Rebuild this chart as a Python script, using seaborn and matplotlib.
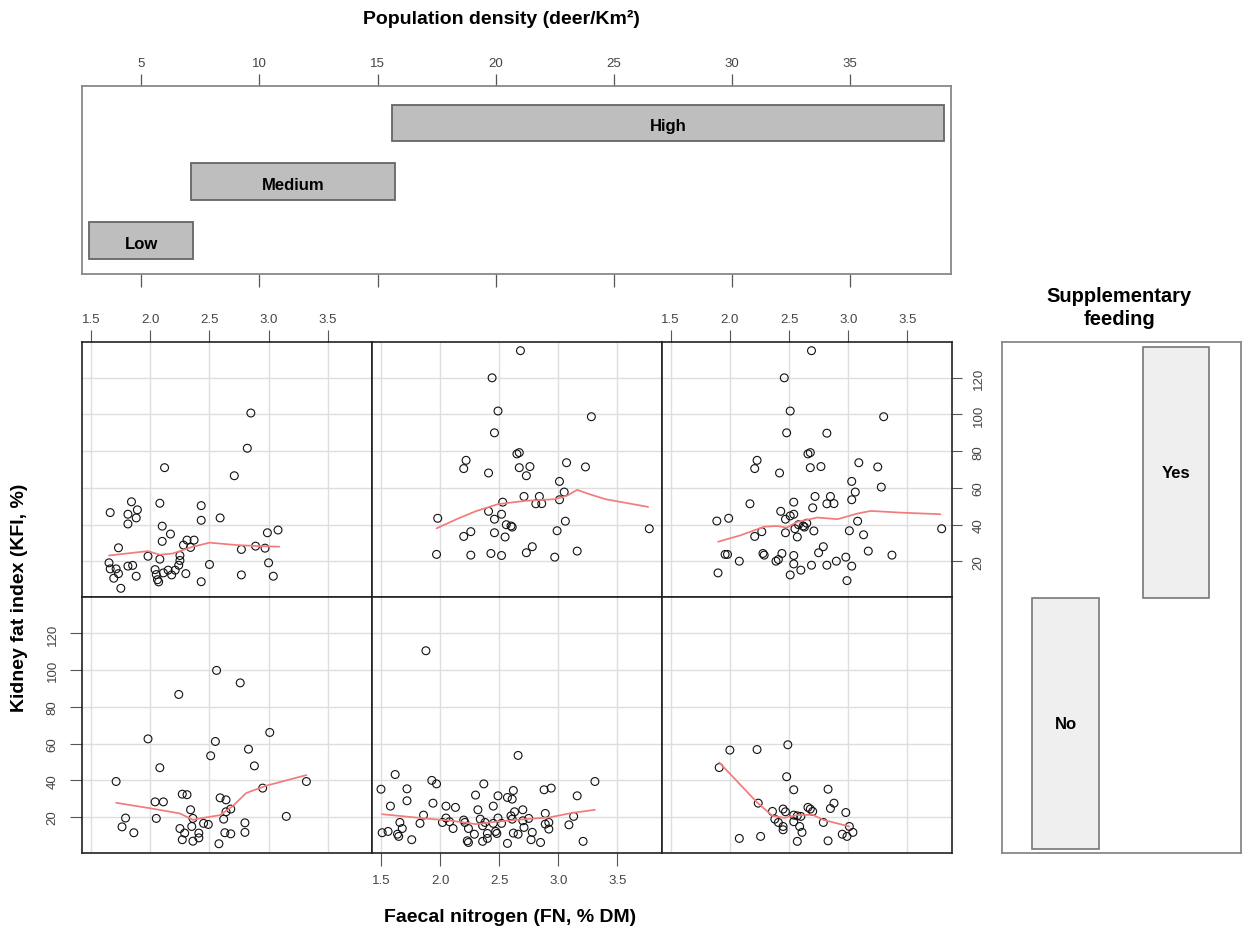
import numpy as np
import pandas as pd
import matplotlib
matplotlib.use("Agg")
import matplotlib.pyplot as plt
import seaborn as sns

# ---------------- data ----------------
density_levels = ["Low", "Medium", "High"]
density_lo = [2.80, 7.12, 15.63]
density_hi = [7.20, 15.75, 38.97]
density_ticks = [5, 10, 15, 20, 25, 30, 35]

feeding_levels = ["No", "Yes"]
feeding_lo = [0.5, 1.5]
feeding_hi = [1.5, 2.5]

fn_ticks = [1.5, 2.0, 2.5, 3.0, 3.5]
kfi_ticks = [20, 40, 60, 80, 100, 120]

# Supplementary feeding = Yes, density Low
fn_yes_low = [2.85, 2.82, 2.12, 2.71, 1.84, 1.66, 1.89, 1.81, 1.88, 1.81, 2.08, 2.43, 2.43, 2.59,
              2.10, 2.17, 2.10, 2.31, 2.37, 2.28, 2.34, 2.99, 3.08, 1.73, 2.77, 2.89, 2.97, 1.98,
              2.08, 2.25, 2.25, 2.24, 2.50, 3.00, 1.65, 1.66, 1.71, 1.73, 1.69, 1.75, 1.81, 1.85,
              1.88, 2.04, 2.05, 2.06, 2.07, 2.11, 2.15, 2.18, 2.21, 2.30, 2.43, 2.77, 3.04]
kfi_yes_low = [100.8, 81.6, 71.0, 66.6, 52.4, 46.5, 48.0, 45.6, 43.6, 40.3, 51.6, 50.3, 42.3, 43.6,
               39.1, 34.8, 30.8, 31.5, 31.5, 28.8, 27.5, 35.5, 37.0, 27.3, 26.4, 28.2, 27.1, 22.7,
               21.1, 23.1, 20.4, 17.8, 18.2, 19.1, 19.1, 15.8, 15.8, 13.2, 10.7, 5.2, 17.3, 17.7,
               11.8, 15.4, 12.7, 9.9, 8.7, 13.6, 15.1, 12.5, 15.1, 13.2, 8.8, 12.5, 11.8]
smooth_fn_yes_low = [1.65, 1.98, 2.08, 2.19, 2.35, 2.50, 2.73, 2.92, 3.09]
smooth_kfi_yes_low = [23.1, 25.5, 23.5, 24.2, 27.7, 30.1, 28.8, 28.2, 27.9]

# Yes, Medium
fn_yes_med = [2.68, 2.44, 2.49, 2.46, 3.28, 2.65, 2.67, 2.22, 2.20, 2.41, 2.67, 2.76, 2.73, 3.07,
              3.23, 3.01, 3.05, 3.01, 2.71, 2.84, 2.53, 2.81, 2.86, 1.98, 2.41, 2.46, 2.52, 2.56,
              2.60, 2.61, 3.06, 2.20, 2.26, 2.46, 2.55, 2.99, 3.77, 1.97, 2.26, 2.43, 2.52, 2.73,
              2.78, 2.97, 3.16]
kfi_yes_med = [134.8, 120.0, 101.9, 90.0, 98.8, 78.5, 79.2, 75.0, 70.5, 68.1, 71.0, 71.6, 66.6, 73.7,
               71.4, 63.5, 57.7, 53.5, 55.3, 55.3, 52.2, 51.3, 51.4, 43.4, 47.2, 42.9, 45.6, 39.9,
               39.2, 38.6, 41.8, 33.5, 36.1, 35.5, 33.2, 36.6, 37.7, 23.7, 23.3, 24.2, 23.1, 24.6,
               27.9, 22.2, 25.5]
smooth_fn_yes_med = [1.97, 2.15, 2.30, 2.49, 2.72, 2.97, 3.07, 3.16, 3.26, 3.40, 3.76]
smooth_kfi_yes_med = [37.9, 43.2, 47.2, 51.1, 52.9, 53.8, 55.6, 58.9, 56.6, 53.8, 49.6]

# Yes, High
fn_yes_high = [2.69, 2.46, 2.51, 2.48, 3.30, 2.82, 2.66, 2.68, 2.23, 2.21, 2.42, 2.68, 2.77, 3.09,
               3.25, 3.03, 3.28, 3.06, 3.03, 2.72, 2.85, 2.54, 2.17, 2.82, 2.88, 2.70, 2.43, 2.51,
               2.54, 2.47, 2.58, 2.62, 2.63, 2.65, 2.55, 3.08, 1.89, 1.99, 2.21, 2.27, 2.47, 2.57,
               2.71, 3.01, 3.13, 3.79, 1.96, 1.98, 2.08, 2.28, 2.29, 2.39, 2.41, 2.44, 2.54, 2.54,
               2.51, 2.60, 2.69, 2.75, 2.79, 2.82, 2.90, 2.98, 3.03, 3.17, 3.37, 1.90, 2.99]
kfi_yes_high = [134.8, 120.0, 101.9, 90.0, 98.8, 89.8, 78.5, 79.2, 75.0, 70.5, 68.1, 71.0, 71.6, 73.7,
                71.4, 63.5, 60.4, 57.7, 53.5, 55.3, 55.3, 52.2, 51.3, 51.3, 51.4, 49.1, 47.2, 44.7,
                45.6, 42.9, 39.9, 39.2, 38.6, 40.7, 37.7, 41.8, 41.9, 43.4, 33.5, 36.1, 35.5, 33.2,
                36.5, 36.6, 34.4, 37.7, 23.7, 23.7, 20.0, 24.2, 23.3, 20.0, 20.9, 24.2, 23.1, 18.5,
                12.5, 15.1, 17.8, 24.6, 27.9, 17.8, 20.0, 22.2, 17.3, 25.5, 23.3, 13.6, 9.4]
smooth_fn_yes_high = [1.90, 2.09, 2.29, 2.40, 2.48, 2.57, 2.74, 2.91, 3.08, 3.19, 3.44, 3.78]
smooth_kfi_yes_high = [30.6, 34.1, 38.8, 39.2, 38.3, 41.4, 43.8, 42.9, 46.0, 47.4, 46.5, 45.6]

# Supplementary feeding = No, density Low
fn_no_low = [2.56, 2.76, 2.24, 3.01, 1.98, 2.55, 2.51, 2.83, 2.88, 2.08, 1.71, 3.32, 2.95, 2.27,
             2.31, 2.04, 2.11, 2.59, 2.64, 2.34, 2.68, 2.64, 2.36, 3.15, 1.79, 2.05, 1.76, 1.86,
             2.25, 2.29, 2.27, 2.36, 2.35, 2.41, 2.41, 2.45, 2.49, 2.62, 2.63, 2.68, 2.80, 2.80,
             2.58]
kfi_no_low = [99.9, 93.1, 86.8, 66.1, 62.6, 61.2, 53.4, 57.0, 47.9, 46.9, 39.4, 39.4, 35.8, 32.5,
              32.2, 28.3, 28.3, 30.5, 29.4, 24.0, 24.4, 22.9, 19.3, 20.4, 19.5, 19.3, 14.7, 11.5,
              13.8, 11.3, 7.7, 6.9, 14.9, 11.3, 8.7, 16.6, 16.0, 18.9, 11.5, 10.9, 16.9, 11.7,
              5.5]
smooth_fn_no_low = [1.71, 1.99, 2.25, 2.36, 2.42, 2.59, 2.70, 2.81, 2.98, 3.32]
smooth_kfi_no_low = [27.8, 24.9, 22.0, 18.5, 19.3, 21.1, 26.2, 33.1, 37.1, 42.9]

# No, Medium
fn_no_med = [1.88, 2.66, 1.62, 1.50, 1.72, 1.72, 1.58, 1.93, 1.97, 1.94, 2.37, 2.30, 2.05, 2.13,
             1.86, 2.45, 2.49, 2.57, 2.62, 2.61, 2.32, 2.63, 2.70, 2.88, 2.94, 3.16, 3.31, 2.89,
             3.13, 1.66, 1.68, 1.51, 1.56, 1.64, 1.65, 1.76, 1.83, 2.02, 2.05, 2.08, 2.11, 2.20,
             2.21, 2.24, 2.23, 2.24, 2.29, 2.34, 2.36, 2.38, 2.36, 2.40, 2.40, 2.45, 2.47, 2.48,
             2.49, 2.52, 2.57, 2.60, 2.61, 2.62, 2.66, 2.70, 2.71, 2.75, 2.78, 2.77, 2.85, 2.89,
             2.92, 2.92, 3.09, 3.21]
kfi_no_med = [110.6, 53.6, 43.2, 35.2, 35.4, 28.9, 26.0, 40.0, 38.1, 27.6, 38.1, 32.0, 26.0, 25.3,
              21.1, 26.0, 31.6, 30.7, 34.5, 29.8, 24.0, 22.9, 24.0, 34.9, 35.8, 31.6, 39.4, 22.0,
              20.4, 17.1, 13.8, 11.5, 12.2, 10.7, 9.5, 7.7, 16.6, 17.1, 19.5, 17.5, 13.8, 18.4,
              17.1, 13.8, 7.1, 6.2, 10.7, 18.9, 15.3, 17.1, 6.8, 11.1, 8.4, 16.6, 12.2, 11.1,
              19.5, 16.6, 5.7, 20.7, 18.9, 11.3, 10.7, 18.0, 14.4, 19.3, 11.7, 7.7, 6.2, 16.2,
              17.1, 13.5, 15.8, 6.8]
smooth_fn_no_med = [1.51, 1.87, 2.10, 2.30, 2.49, 2.72, 2.92, 3.11, 3.31]
smooth_kfi_no_med = [21.6, 19.3, 18.0, 16.2, 17.6, 18.9, 19.8, 22.2, 24.0]

# No, High
fn_no_high = [2.00, 2.23, 2.49, 1.91, 2.48, 2.54, 2.83, 2.24, 2.88, 2.85, 2.36, 2.98, 2.45, 2.47,
              2.66, 2.68, 2.70, 2.54, 2.57, 2.60, 2.38, 2.41, 2.45, 2.45, 2.54, 2.59, 2.61, 2.79,
              3.01, 2.95, 2.99, 3.04, 2.08, 2.26, 2.57, 2.83]
kfi_no_high = [56.5, 56.8, 59.4, 47.0, 42.0, 34.9, 35.2, 27.6, 27.6, 24.7, 23.1, 22.5, 24.4, 22.9,
               25.3, 24.4, 23.1, 21.1, 20.7, 20.4, 18.9, 17.1, 14.9, 13.1, 17.5, 14.9, 11.7, 17.1,
               14.9, 10.7, 9.5, 11.7, 8.4, 9.5, 6.8, 7.1]
smooth_fn_no_high = [1.91, 2.23, 2.36, 2.46, 2.57, 2.70, 2.79, 3.01]
smooth_kfi_no_high = [49.8, 28.0, 20.7, 19.6, 21.1, 21.3, 18.5, 14.9]

# ---------------- figure ----------------
sns.set_style("white")
plt.rcParams["font.family"] = ["Liberation Sans", "DejaVu Sans"]
plt.rcParams["text.color"] = "black"

W, H = 1245, 937
fig = plt.figure(figsize=(W / 100, H / 100), dpi=100)


def add_ax(x0, y0, x1, y1):
    return fig.add_axes([x0 / W, 1 - y1 / H, (x1 - x0) / W, (y1 - y0) / H])


TICK_COL = "#555555"
LAB_COL = "#444444"
GRID_COL = "#DEDEDE"
RED = "#F27B7B"

panels = {
    (0, 0): (fn_yes_low, kfi_yes_low, smooth_fn_yes_low, smooth_kfi_yes_low),
    (0, 1): (fn_yes_med, kfi_yes_med, smooth_fn_yes_med, smooth_kfi_yes_med),
    (0, 2): (fn_yes_high, kfi_yes_high, smooth_fn_yes_high, smooth_kfi_yes_high),
    (1, 0): (fn_no_low, kfi_no_low, smooth_fn_no_low, smooth_kfi_no_low),
    (1, 1): (fn_no_med, kfi_no_med, smooth_fn_no_med, smooth_kfi_no_med),
    (1, 2): (fn_no_high, kfi_no_high, smooth_fn_no_high, smooth_kfi_no_high),
}

col_x = [82.3, 372.0, 661.7, 951.7]
row_y = [342.7, 598.3, 854.3]

for (r, c), (fx, ky, sx, sy) in panels.items():
    ax = add_ax(col_x[c], row_y[r], col_x[c + 1], row_y[r + 1])
    df = pd.DataFrame({"fn": fx, "kfi": ky})
    sm = pd.DataFrame({"fn": sx, "kfi": sy})
    ax.set_axisbelow(True)
    sns.scatterplot(data=df, x="fn", y="kfi", ax=ax, marker="o", s=32,
                    facecolor="none", edgecolor="#111111", linewidth=0.8, zorder=3)
    sns.lineplot(data=sm, x="fn", y="kfi", ax=ax, color=RED, lw=1.25,
                 sort=False, estimator=None, zorder=4)
    ax.set_xlim(1.424, 3.875)
    ax.set_ylim(0.3, 139.7)
    ax.set_xticks(fn_ticks)
    ax.set_yticks(kfi_ticks)
    ax.grid(True, color=GRID_COL, lw=1.0)
    ax.set_xlabel("")
    ax.set_ylabel("")
    for sp in ax.spines.values():
        sp.set_color("#222222")
        sp.set_linewidth(1.2)
    ax.tick_params(which="both", bottom=False, top=False, left=False, right=False,
                   labelbottom=False, labeltop=False, labelleft=False, labelright=False,
                   colors=TICK_COL, labelcolor=LAB_COL, labelsize=9.5, length=9, width=0.8)
    ax.set_xticklabels([f"{t:.1f}" for t in fn_ticks])
    ax.set_yticklabels([str(t) for t in kfi_ticks])
    if r == 0 and c in (0, 2):
        ax.tick_params(axis="x", top=True, labeltop=True, pad=3)
    if r == 1 and c == 1:
        ax.tick_params(axis="x", bottom=True, labelbottom=True, pad=6)
    if r == 0 and c == 2:
        ax.tick_params(axis="y", right=True, labelright=True, length=7, pad=8)
        for lab in ax.get_yticklabels():
            lab.set_rotation(90)
            lab.set_va("center")
    if r == 1 and c == 0:
        ax.tick_params(axis="y", left=True, labelleft=True, length=9, pad=8)
        for lab in ax.get_yticklabels():
            lab.set_rotation(90)
            lab.set_va("center")

# ---- given panel: population density ----
axg = add_ax(82.3, 86.7, 951.0, 275.0)
dens = pd.DataFrame({"level": density_levels, "lo": density_lo, "hi": density_hi})
ypos = np.arange(1, len(density_levels) + 1)
axg.barh(ypos, dens["hi"] - dens["lo"], left=dens["lo"], height=0.62,
         color="#BEBEBE", edgecolor="#666666", linewidth=1.3)
for yv, lv, lo, hi in zip(ypos, density_levels, density_lo, density_hi):
    axg.text((lo + hi) / 2, yv - 0.05, lv, ha="center", va="center", fontsize=12,
             fontweight="bold", color="black")
axg.set_xlim(2.5, 39.27)
axg.set_ylim(0.43, 3.63)
axg.set_xticks(density_ticks)
axg.set_yticks([])
axg.tick_params(axis="x", top=True, bottom=True, labeltop=True, labelbottom=False,
                colors=TICK_COL, labelcolor=LAB_COL, labelsize=9.5, length=9, width=0.9,
                direction="out", pad=3)
for sp in axg.spines.values():
    sp.set_color("#888888")
    sp.set_linewidth(1.3)

# ---- given panel: supplementary feeding ----
axs = add_ax(1001.7, 343.3, 1240.7, 854.0)
xpos = np.arange(1, len(feeding_levels) + 1)
axs.bar(xpos, np.array(feeding_hi) - np.array(feeding_lo), bottom=feeding_lo, width=0.6,
        color="#EFEFEF", edgecolor="#777777", linewidth=1.2)
for xv, lv, lo, hi in zip(xpos, feeding_levels, feeding_lo, feeding_hi):
    axs.text(xv, (lo + hi) / 2, lv, ha="center", va="center", fontsize=12,
             fontweight="bold", color="black")
axs.set_xlim(0.423, 2.585)
axs.set_ylim(0.484, 2.518)
axs.set_xticks([])
axs.set_yticks([])
for sp in axs.spines.values():
    sp.set_color("#888888")
    sp.set_linewidth(1.3)

# ---- titles and axis labels ----
fig.text(501 / W, 1 - 19 / H, "Population density (deer/Km²)", ha="center", va="center",
         fontsize=14, fontweight="bold", color="black")
fig.text(1119 / W, 1 - 308 / H, "Supplementary\nfeeding", ha="center", va="center",
         fontsize=14.5, fontweight="bold", linespacing=1.3, color="black")
fig.text(510 / W, 1 - 918 / H, "Faecal nitrogen (FN, % DM)", ha="center", va="center",
         fontsize=14, fontweight="bold", color="black")
fig.text(20 / W, 1 - 598 / H, "Kidney fat index (KFI, %)", ha="center", va="center",
         rotation=90, fontsize=14, fontweight="bold", color="black")

fig.savefig("out.png", dpi=100)
